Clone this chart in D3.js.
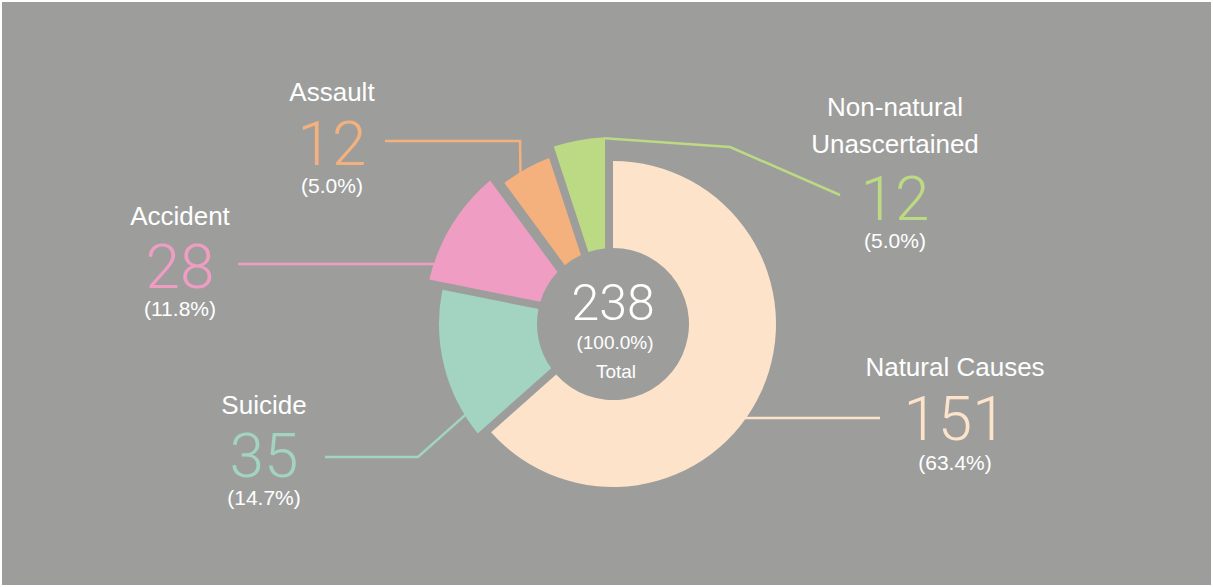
<!DOCTYPE html>
<html>
<head>
<meta charset="utf-8">
<script src="https://cdn.jsdelivr.net/npm/d3@7"></script>
<style>
  body { margin: 0; background: #ffffff; }
  text { font-family: "Liberation Sans", Arial, Helvetica, sans-serif; }
</style>
</head>
<body>
<div id="chart"></div>
<script>
// data
var categories = ["Natural Causes", "Suicide", "Accident", "Assault", "Non-natural Unascertained"];
var nameLines = [["Natural Causes"], ["Suicide"], ["Accident"], ["Assault"], ["Non-natural", "Unascertained"]];
var values = [151, 35, 28, 12, 12];
var colors = ["#fde3c9", "#a2d4c1", "#f09dc3", "#f5b17d", "#bcd984"];

var svgWidth = 1213;
var svgHeight = 587;
var cx = 613, cy = 324;
var innerR = 76;

// per slice layout: outer radius, edge offsets (px, start / end side),
// leader anchor angle (deg, clockwise from top), elbow / end of leader,
// label centre and baselines
var layout = [
  { r: 163, off: [0, 0],     ang: 125.5, elbow: null,       end: [880, 418], x: 955, name: 376, num: 440, pct: 470 },
  { r: 174, off: [8, 0],     ang: 238.4, elbow: [418, 457], end: [325, 457], x: 264, name: 414, num: 477, pct: 505 },
  { r: 189, off: [7.5, -14], ang: 288.6, elbow: null,       end: [238, 264], x: 180, name: 225, num: 288, pct: 316 },
  { r: 178, off: [-4, -9],   ang: 328.5, elbow: [520, 141], end: [385, 141], x: 332, name: 101, num: 165, pct: 193 },
  { r: 187, off: [-1, -8],   ang: 357.4, elbow: [730, 147], end: [840, 195], x: 895, name: 153, num: 220, pct: 248 }
];

var svg = d3.select("#chart")
  .append("svg")
  .attr("width", svgWidth)
  .attr("height", svgHeight);

svg.append("rect")
  .attr("x", 2).attr("y", 2)
  .attr("width", svgWidth - 4).attr("height", svgHeight - 4)
  .attr("fill", "#9d9e9c");

var total = d3.sum(values);
var pct = d3.format(".1f");

var pie = d3.pie().sort(null).value(d => d)(values);

// slice whose straight edges are shifted parallel to the radial boundary
function slicePath(d, i) {
  var ro = layout[i].r;
  var o0 = layout[i].off[0], o1 = layout[i].off[1];
  var m = a => a - Math.PI / 2;
  var s0o = d.startAngle + Math.asin(o0 / ro), s0i = d.startAngle + Math.asin(o0 / innerR);
  var e1o = d.endAngle + Math.asin(o1 / ro), e1i = d.endAngle + Math.asin(o1 / innerR);
  var p = d3.path();
  p.moveTo(ro * Math.cos(m(s0o)), ro * Math.sin(m(s0o)));
  p.arc(0, 0, ro, m(s0o), m(e1o));
  p.lineTo(innerR * Math.cos(m(e1i)), innerR * Math.sin(m(e1i)));
  p.arc(0, 0, innerR, m(e1i), m(s0i), true);
  p.closePath();
  return p.toString();
}

var chartGroup = svg.append("g")
  .attr("transform", `translate(${cx}, ${cy})`);

chartGroup.selectAll("path.slice")
  .data(pie)
  .enter()
  .append("path")
  .attr("class", "slice")
  .attr("d", slicePath)
  .attr("fill", (d, i) => colors[i]);

// leader lines
var line = d3.line();
svg.selectAll("path.leader")
  .data(pie)
  .enter()
  .append("path")
  .attr("class", "leader")
  .attr("d", function(d, i) {
    var L = layout[i];
    var a = L.ang * Math.PI / 180;
    var pts = [[cx + (L.r - 1) * Math.sin(a), cy - (L.r - 1) * Math.cos(a)]];
    if (L.elbow) pts.push(L.elbow);
    pts.push(L.end);
    return line(pts);
  })
  .attr("fill", "none")
  .attr("stroke", (d, i) => colors[i])
  .attr("stroke-width", 2.5);

// labels
var labels = svg.selectAll("g.label")
  .data(pie)
  .enter()
  .append("g")
  .attr("class", "label");

labels.each(function(d, i) {
  var g = d3.select(this);
  var L = layout[i];
  var lines = nameLines[i];
  lines.forEach(function(t, k) {
    g.append("text")
      .attr("x", L.x)
      .attr("y", L.name - (lines.length - 1 - k) * 37)
      .attr("text-anchor", "middle")
      .attr("fill", "#ffffff")
      .style("font-size", "26px")
      .text(t);
  });
  g.append("text")
    .attr("x", L.x)
    .attr("y", L.num)
    .attr("text-anchor", "middle")
    .attr("fill", colors[i])
    .style("font-size", "62px")
    .style("font-weight", "300")
    .style("font-family", "Roboto, 'Liberation Sans', sans-serif")
    .text(values[i]);
  g.append("text")
    .attr("x", L.x)
    .attr("y", L.pct)
    .attr("text-anchor", "middle")
    .attr("fill", "#ffffff")
    .style("font-size", "21px")
    .text(`(${pct(values[i] / total * 100)}%)`);
});

// centre total
chartGroup.append("text")
  .attr("y", -4)
  .attr("text-anchor", "middle")
  .attr("fill", "#ffffff")
  .style("font-size", "50px")
  .style("font-weight", "300")
  .style("font-family", "Roboto, 'Liberation Sans', sans-serif")
  .text(total);

chartGroup.append("text")
  .attr("x", 2)
  .attr("y", 25)
  .attr("text-anchor", "middle")
  .attr("fill", "#ffffff")
  .style("font-size", "19px")
  .text(`(${pct(100)}%)`);

chartGroup.append("text")
  .attr("x", 3)
  .attr("y", 54)
  .attr("text-anchor", "middle")
  .attr("fill", "#ffffff")
  .style("font-size", "19px")
  .text("Total");
</script>
</body>
</html>
